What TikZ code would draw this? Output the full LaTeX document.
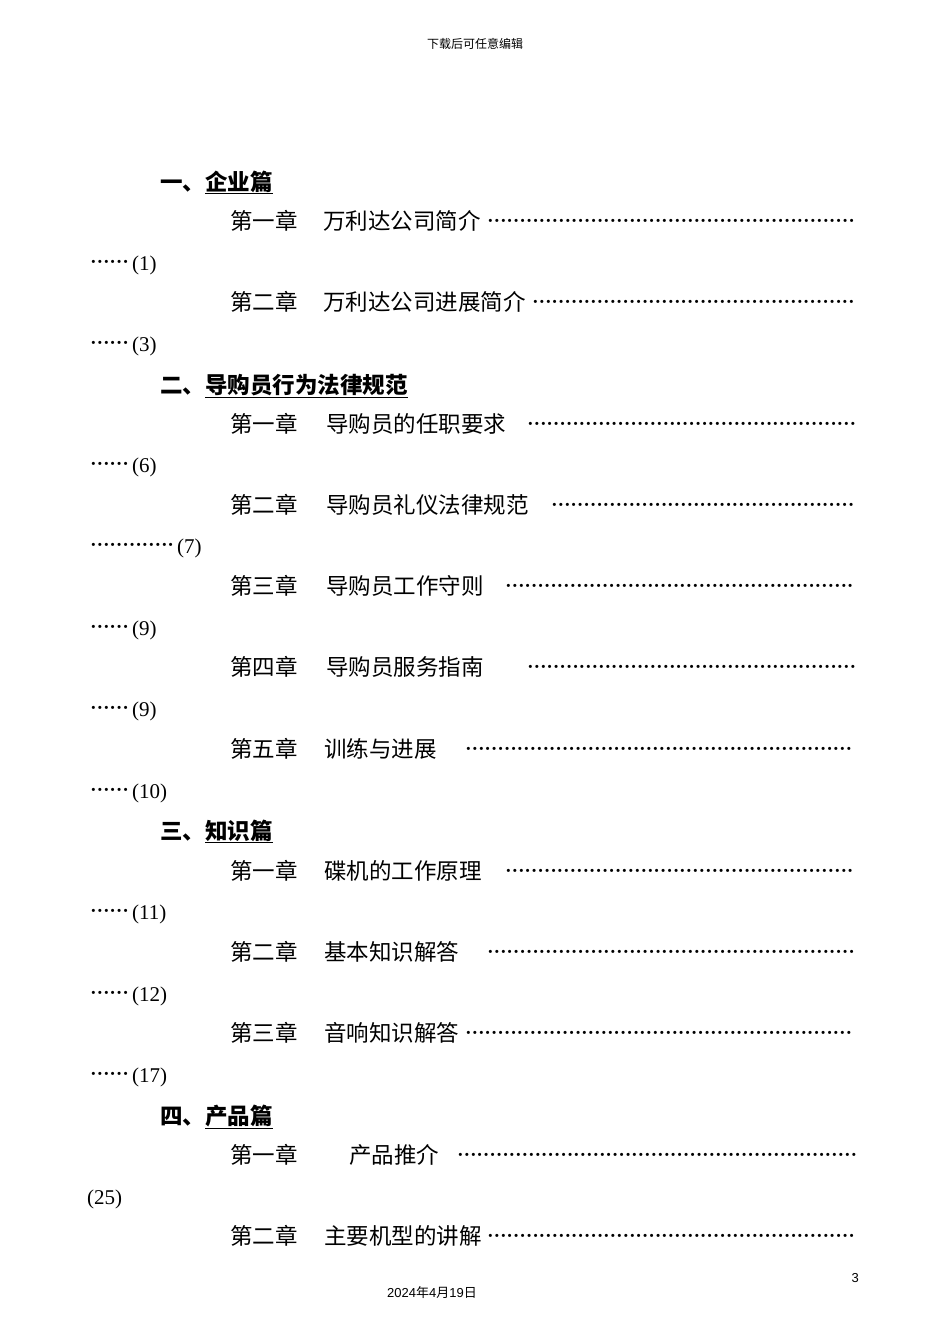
\documentclass[tikz,border=0pt]{standalone}
\usepackage{fontspec}
\setmainfont{Liberation Serif}
\newfontfamily\cjk{Noto Sans CJK SC}
\newfontfamily\lsans{Liberation Sans}
\newcommand\dotrow[1]{\hbox to #1{\leaders\hbox to 6.45pt{\hss\fontsize{26}{26}\selectfont\textperiodcentered\hss}\hfill}}
\tikzset{txt/.style={anchor=base west,inner sep=0pt,font=\fontsize{21}{21}\selectfont}}
\newcommand\chap[5]{% y, chapter, title, dotstart, title x
 \node[txt] (c#1) at (230,-#1) {\cjk\fontsize{22.5}{22}\selectfont #2};
 \node[txt] (t#1) at (#5,-#1) {\cjk\fontsize{22.5}{22}\selectfont #3};
 \node[txt] (d#1) at (#4,-#1) {\dotrow{\dimexpr 857pt-#4pt\relax}};}
\newcommand\cont[3]{% y, dots width, page
 \node[txt] (p#1) at (90,-#1) {\dotrow{#2pt}\hspace{-3pt}(#3)};}
\newcommand\head[3]{\node[txt] (h#1) at (160,-#1) {\cjk\bfseries\fontsize{22.5}{22}\selectfont #2\underline{#3}};}
\begin{document}
\begin{tikzpicture}[x=1pt,y=1pt]
\useasboundingbox (0,0) rectangle (950,-1344);
\node[anchor=base,inner sep=0pt,font=\fontsize{12}{12}\selectfont] (hdr) at (475,-48) {\cjk 下载后可任意编辑};
\head{190}{一、}{企业篇}
\chap{229}{第一章}{万利达公司简介}{487}{323}
\cont{270}{45}{1}
\chap{310}{第二章}{万利达公司进展简介}{532}{323}
\cont{351}{45}{3}
\head{393}{二、}{导购员行为法律规范}
\chap{432}{第一章}{导购员的任职要求}{527}{326}
\cont{472}{45}{6}
\chap{513}{第二章}{导购员礼仪法律规范}{551}{326}
\cont{553}{90}{7}
\chap{594}{第三章}{导购员工作守则}{505}{326}
\cont{635}{45}{9}
\chap{675}{第四章}{导购员服务指南}{527}{326}
\cont{716}{45}{9}
\chap{757}{第五章}{训练与进展}{465}{324}
\cont{798}{45}{10}
\head{839}{三、}{知识篇}
\chap{879}{第一章}{碟机的工作原理}{505}{324}
\cont{919}{45}{11}
\chap{960}{第二章}{基本知识解答}{487}{324}
\cont{1001}{45}{12}
\chap{1041}{第三章}{音响知识解答}{465}{324}
\cont{1082}{45}{17}
\head{1124}{四、}{产品篇}
\chap{1163}{第一章}{产品推介}{457}{349}
\cont{1204}{0}{25}
\chap{1244}{第二章}{主要机型的讲解}{487}{324}
\node[anchor=base east,inner sep=0pt,font=\fontsize{13}{13}\selectfont\lsans] (pg) at (859,-1282) {3};
\node[anchor=base,inner sep=0pt,font=\fontsize{13}{13}\selectfont] (dt) at (432,-1297) {\lsans 2024\cjk 年\lsans 4\cjk 月\lsans 19\cjk 日};
\end{tikzpicture}
\end{document}
